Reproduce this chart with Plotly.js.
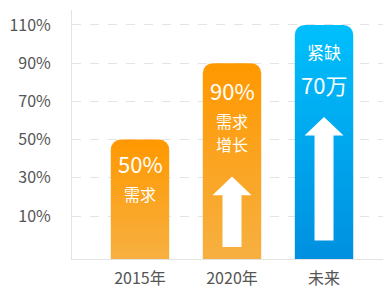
<!DOCTYPE html>
<html>
<head>
<meta charset="utf-8">
<script src="https://cdn.plot.ly/plotly-3.0.1.min.js"></script>
<style>html,body{margin:0;padding:0;background:#fff;}#chart{width:388px;height:290px;}</style>
</head>
<body>
<div id="chart"></div>
<script>
// ---- data ----
const categories = ['2015年', '2020年', '未来'];
const barValues = [50, 90, 110];
const tickValues = [10, 30, 50, 70, 90, 110];
const tickLabels = ['10%', '30%', '50%', '70%', '90%', '110%'];
const axisMin = -12.5;
const axisMax = 117.8;
// labels inside bars (line 1, line 2, line 3)
const barLine1 = ['50%', '90%', '紧缺'];
const barLine2 = ['需求', '需求', '70万'];
const barLine3 = ['', '增长', ''];
// arrows: category index, tip value, head base value, tail value
const arrowIndex = [1, 2];
const arrowTip = [30.7, 61.8];
const arrowHeadBase = [20.8, 52.1];
const arrowTail = [-6.2, -2.8];

const FONT = '"Noto Sans CJK SC", "Noto Sans", sans-serif';
const barBase = axisMin - 30; // below visible range so bottom corners are clipped square

const trace = {
  type: 'bar',
  x: categories.map((c, i) => i),
  y: barValues.map(v => v - barBase),
  base: barBase,
  width: 0.635,
  marker: { color: ['#FCA01E', '#FCA01E', '#07A6EE'], cornerradius: 10, line: { width: 0 } },
  hoverinfo: 'none'
};

const annotations = [];
const big = { size: 22, color: '#ffffff', family: FONT };
const small = { size: 16, color: '#ffffff', family: FONT };
const shifts1 = [-23, -27, -27];
const shifts2 = [-54, -58, -59];
const fonts1 = [big, big, { size: 17, color: '#fff', family: FONT }];
const fonts2 = [small, small, big];
categories.forEach((c, i) => {
  annotations.push({ x: i, y: barValues[i], text: barLine1[i], showarrow: false, yshift: shifts1[i], font: fonts1[i], yanchor: 'middle' });
  annotations.push({ x: i, y: barValues[i], text: barLine2[i], showarrow: false, yshift: shifts2[i], font: fonts2[i], yanchor: 'middle' });
  if (barLine3[i]) annotations.push({ x: i, y: barValues[i], text: barLine3[i], showarrow: false, yshift: -81, font: small, yanchor: 'middle' });
});

const shapes = arrowIndex.map((idx, k) => ({
  type: 'path', xref: 'x', yref: 'y', xsizemode: 'pixel', xanchor: idx,
  path: `M -19.5,${arrowHeadBase[k]} L 0,${arrowTip[k]} L 19.5,${arrowHeadBase[k]} L 9.5,${arrowHeadBase[k]} L 9.5,${arrowTail[k]} L -9.5,${arrowTail[k]} L -9.5,${arrowHeadBase[k]} Z`,
  fillcolor: '#ffffff', line: { width: 0 }, layer: 'above'
}));

const layout = {
  width: 388, height: 290,
  margin: { l: 72, r: 5, t: 10, b: 31 },
  paper_bgcolor: '#ffffff', plot_bgcolor: '#ffffff',
  showlegend: false,
  font: { family: FONT, color: '#555555' },
  xaxis: {
    range: [-0.739, 2.641],
    tickvals: [0, 1, 2], ticktext: categories,
    showgrid: false, zeroline: false,
    showline: true, linecolor: '#e3e3e3', linewidth: 1,
    ticks: '', ticklabelstandoff: 5,
    tickfont: { size: 16, color: '#555555', family: FONT },
    fixedrange: true
  },
  yaxis: {
    range: [axisMin, axisMax],
    tickvals: tickValues, ticktext: tickLabels,
    showgrid: true, gridcolor: '#e4e4e4', griddash: 'dash', gridwidth: 1,
    zeroline: false,
    showline: true, linecolor: '#e3e3e3', linewidth: 1,
    ticks: '', ticklabelstandoff: 17,
    tickfont: { size: 16, color: '#555555', family: FONT },
    fixedrange: true
  },
  annotations: annotations,
  shapes: shapes
};

Plotly.newPlot('chart', [trace], layout, { staticPlot: true, displayModeBar: false }).then(gd => {
  const svg = gd.querySelector('.main-svg');
  const ns = 'http://www.w3.org/2000/svg';
  let defs = svg.querySelector('defs');
  if (!defs) { defs = document.createElementNS(ns, 'defs'); svg.insertBefore(defs, svg.firstChild); }
  const grads = [['#FF9800', '#F7B041'], ['#FF9800', '#F7B041'], ['#00BFFD', '#0090DF']];
  gd.querySelectorAll('.barlayer .point path').forEach((p, i) => {
    const bb = p.getBBox();
    const g = grads[i];
    const lg = document.createElementNS(ns, 'linearGradient');
    lg.setAttribute('id', 'bargrad' + i);
    lg.setAttribute('gradientUnits', 'userSpaceOnUse');
    // gradient runs from the bar top to the visible plot bottom
    const plotBottom = gd._fullLayout._size.h;
    lg.setAttribute('x1', '0'); lg.setAttribute('y1', String(bb.y));
    lg.setAttribute('x2', '0'); lg.setAttribute('y2', String(plotBottom));
    [[0, g[0]], [1, g[1]]].forEach(([o, c]) => {
      const s = document.createElementNS(ns, 'stop');
      s.setAttribute('offset', o); s.setAttribute('stop-color', c);
      lg.appendChild(s);
    });
    defs.appendChild(lg);
    p.style.fill = 'url(#bargrad' + i + ')';
  });
});
</script>
</body>
</html>
